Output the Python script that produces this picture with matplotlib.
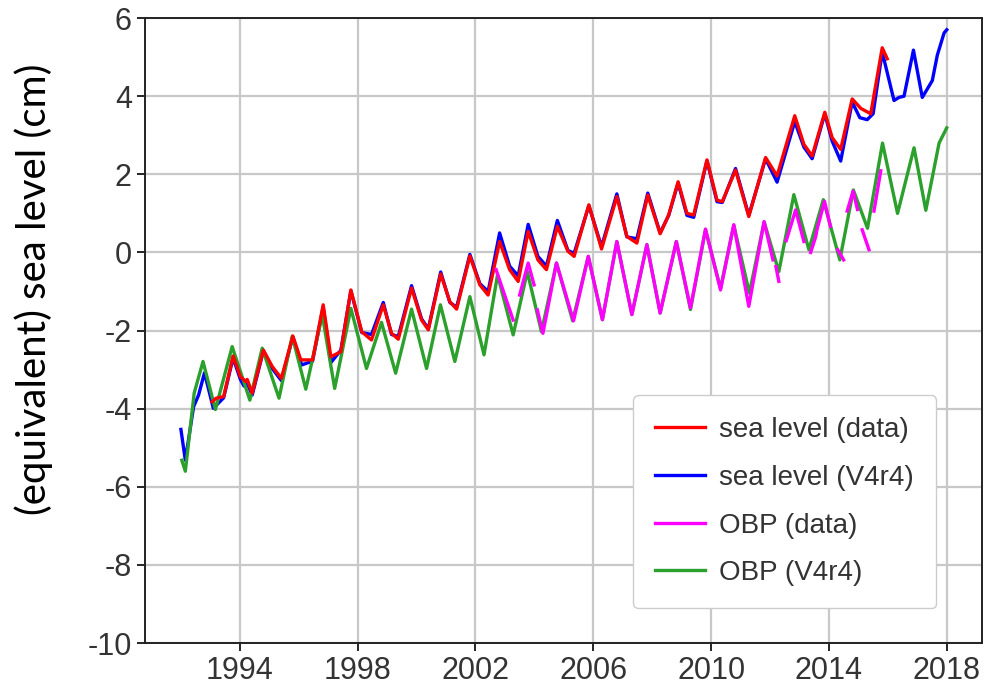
import matplotlib
matplotlib.use("Agg")
import matplotlib.pyplot as plt
import numpy as np

nan = np.nan

# sea level (data) - altimetry
sl_data_t = [1993.06, 1993.2, 1993.45, 1993.77, 1994.02, 1994.19, 1994.25, 1994.42, 1994.8, 1995.1,
             1995.41, 1995.8, 1996.07, 1996.47, 1996.83, 1997.09, 1997.43, 1997.77, 1998.14, 1998.47,
             1998.87, 1999.15, 1999.38, 1999.83, 2000.17, 2000.4, 2000.82, 2001.13, 2001.36, 2001.81,
             2002.15, 2002.43, 2002.82, 2003.16, 2003.45, 2003.79, 2004.12, 2004.41, 2004.78, 2005.14,
             2005.35, 2005.85, 2006.28, 2006.8, 2007.14, 2007.48, 2007.85, 2008.27, 2008.56, 2008.88,
             2009.18, 2009.41, 2009.86, 2010.2, 2010.38, 2010.83, 2011.28, 2011.85, 2012.24, 2012.84,
             2013.15, 2013.43, 2013.86, 2014.11, 2014.4, 2014.79, 2015.08, 2015.42, 2015.81, 2015.98]
sl_data_v = [-3.82, -3.73, -3.69, -2.65, -3.18, -3.3, -3.25, -3.6, -2.5, -2.92,
             -3.22, -2.14, -2.75, -2.75, -1.34, -2.67, -2.54, -0.96, -2.03, -2.24,
             -1.34, -2.07, -2.22, -0.91, -1.73, -1.98, -0.55, -1.26, -1.45, -0.09,
             -0.83, -1.09, 0.28, -0.44, -0.74, 0.54, -0.19, -0.44, 0.67, 0.03,
             -0.1, 1.22, 0.09, 1.43, 0.41, 0.24, 1.47, 0.48, 0.96, 1.81,
             1.0, 0.96, 2.37, 1.34, 1.3, 2.11, 0.92, 2.43, 1.96, 3.5,
             2.77, 2.47, 3.59, 2.94, 2.64, 3.93, 3.69, 3.55, 5.24, 4.96]

# sea level (V4r4)
sl_model_t = [1992.0, 1992.15, 1992.43, 1992.6, 1992.8, 1993.1, 1993.45, 1993.77, 1994.02, 1994.14,
              1994.25, 1994.42, 1994.8, 1995.1, 1995.41, 1995.8, 1996.1, 1996.47, 1996.83, 1997.09,
              1997.43, 1997.77, 1998.14, 1998.47, 1998.87, 1999.15, 1999.38, 1999.83, 2000.17, 2000.4,
              2000.82, 2001.13, 2001.36, 2001.81, 2002.15, 2002.43, 2002.82, 2003.16, 2003.45, 2003.79,
              2004.12, 2004.41, 2004.78, 2005.14, 2005.35, 2005.85, 2006.28, 2006.8, 2007.14, 2007.48,
              2007.85, 2008.27, 2008.56, 2008.88, 2009.18, 2009.41, 2009.86, 2010.2, 2010.38, 2010.83,
              2011.28, 2011.85, 2012.24, 2012.84, 2013.15, 2013.43, 2013.86, 2014.11, 2014.4, 2014.79,
              2015.05, 2015.3, 2015.5, 2015.81, 2016.21, 2016.38, 2016.55, 2016.87, 2017.17, 2017.51,
              2017.68, 2017.91, 2018.0]
sl_model_v = [-4.53, -5.32, -3.95, -3.65, -3.08, -3.99, -3.72, -2.7, -3.25, -3.42,
              -3.35, -3.65, -2.52, -2.97, -3.28, -2.16, -2.88, -2.78, -1.4, -2.82,
              -2.5, -0.98, -2.05, -2.1, -1.28, -2.1, -2.15, -0.85, -1.7, -1.95,
              -0.5, -1.28, -1.4, -0.05, -0.8, -1.0, 0.5, -0.35, -0.6, 0.72,
              -0.1, -0.35, 0.82, 0.05, -0.02, 1.2, 0.15, 1.5, 0.4, 0.35,
              1.52, 0.5, 0.95, 1.78, 0.95, 0.9, 2.35, 1.3, 1.28, 2.15,
              0.95, 2.4, 1.8, 3.35, 2.7, 2.4, 3.55, 2.85, 2.34, 3.85,
              3.45, 3.4, 3.55, 5.13, 3.89, 3.97, 4.0, 5.18, 3.97, 4.4,
              5.05, 5.62, 5.7]

# OBP (V4r4)
obp_model_t = [1992.03, 1992.15, 1992.45, 1992.75, 1993.17, 1993.74, 1994.34, 1994.76, 1995.33, 1995.78,
               1996.24, 1996.8, 1997.22, 1997.77, 1998.3, 1998.81, 1999.29, 1999.83, 2000.34, 2000.81,
               2001.3, 2001.81, 2002.29, 2002.75, 2003.28, 2003.76, 2004.24, 2004.75, 2005.3, 2005.83,
               2006.31, 2006.8, 2007.31, 2007.82, 2008.27, 2008.82, 2009.3, 2009.81, 2010.32, 2010.77,
               2011.3, 2011.8, 2012.3, 2012.81, 2013.32, 2013.81, 2014.37, 2014.83, 2015.31, 2015.82,
               2016.33, 2016.89, 2017.29, 2017.74, 2018.0]
obp_model_v = [-5.32, -5.6, -3.6, -2.79, -4.02, -2.41, -3.78, -2.45, -3.73, -2.14,
               -3.5, -1.6, -3.48, -1.43, -2.97, -1.79, -3.09, -1.45, -2.97, -1.34,
               -2.79, -1.13, -2.62, -0.57, -2.11, -0.49, -2.03, -0.27, -1.75, -0.1,
               -1.72, 0.28, -1.59, 0.2, -1.55, 0.28, -1.46, 0.58, -0.92, 0.7,
               -1.04, 0.78, -0.49, 1.48, 0.07, 1.35, -0.19, 1.6, 0.62, 2.8,
               1.0, 2.68, 1.08, 2.8, 3.19]

# OBP (data) - GRACE, nan marks missing months
obp_data_t = [2002.7, 2002.95, 2003.28, 2003.38, 2003.5, 2003.79, 2003.99, 2004.05, 2004.1, 2004.29,
              2004.75, 2005.33, 2005.83, 2006.31, 2006.8, 2007.31, 2007.82, 2008.27, 2008.82, 2009.3,
              2009.81, 2010.32, 2010.77, 2011.28, 2011.8, 2012.1, 2012.15, 2012.2, 2012.3, 2012.4,
              2012.55, 2012.87, 2013.15, 2013.2, 2013.38, 2013.55, 2013.6, 2013.85, 2014.05, 2014.15,
              2014.3, 2014.5, 2014.55, 2014.62, 2014.82, 2014.97, 2015.05, 2015.13, 2015.36, 2015.45,
              2015.53, 2015.76]
obp_data_v = [-0.44, -1.0, -1.73, nan, -1.09, -0.27, -0.83, nan, -1.47, -2.07,
              -0.27, -1.75, -0.1, -1.72, 0.28, -1.59, 0.2, -1.55, 0.28, -1.42,
              0.6, -0.96, 0.71, -1.38, 0.79, -0.19, nan, -0.36, -0.74, nan,
              0.3, 1.09, 0.28, nan, 0.0, 0.4, 0.6, 1.31, 0.67, nan,
              0.07, -0.19, nan, 1.06, 1.57, 1.1, nan, 0.58, 0.07, nan,
              1.06, 2.09]

plt.rcParams['font.family'] = ['Liberation Sans', 'DejaVu Sans']
plt.rcParams['axes.unicode_minus'] = False

fig = plt.figure(figsize=(9.89, 6.96), dpi=100)
ax = fig.add_axes([0.1466, 0.076, 0.8464, 0.898])

lw = 2.4
ax.plot(sl_model_t, sl_model_v, color='#0000ff', lw=lw, label='sea level (V4r4)', zorder=3)
ax.plot(sl_data_t, sl_data_v, color='#ff0000', lw=lw, label='sea level (data)', zorder=4)
ax.plot(obp_model_t, obp_model_v, color='#2ca02c', lw=lw, label='OBP (V4r4)', zorder=3)
ax.plot(obp_data_t, obp_data_v, color='#ff00ff', lw=lw, label='OBP (data)', zorder=4)

ax.set_xlim(1990.78, 2019.2)
ax.set_ylim(-10, 6)
ax.set_xticks([1994, 1998, 2002, 2006, 2010, 2014, 2018])
ax.set_yticks(np.arange(-10, 7, 2))
ax.tick_params(labelsize=22, labelcolor='#333333', length=6, width=1.2)
ax.grid(True, color='#c8c8c8', lw=1.6)
ax.set_axisbelow(True)
for s in ax.spines.values():
    s.set_color('#222222')
    s.set_linewidth(1.4)

# legend in the order of the original
h, l = ax.get_legend_handles_labels()
order = [1, 0, 3, 2]
leg = ax.legend([h[i] for i in order], [l[i] for i in order],
                loc='upper left', bbox_to_anchor=(0.583, 0.397), borderaxespad=0,
                fontsize=20, labelspacing=0.78, handlelength=1.8, handletextpad=0.5,
                borderpad=0.8, fancybox=True, framealpha=1, edgecolor='#cccccc')
for t in leg.get_texts():
    t.set_color('#333333')

fig.text(0.034, 0.585, '(equivalent) sea level (cm)', rotation=90, fontsize=29,
         family='Lato', ha='center', va='center', color='black')

fig.savefig('out.png', dpi=100)
